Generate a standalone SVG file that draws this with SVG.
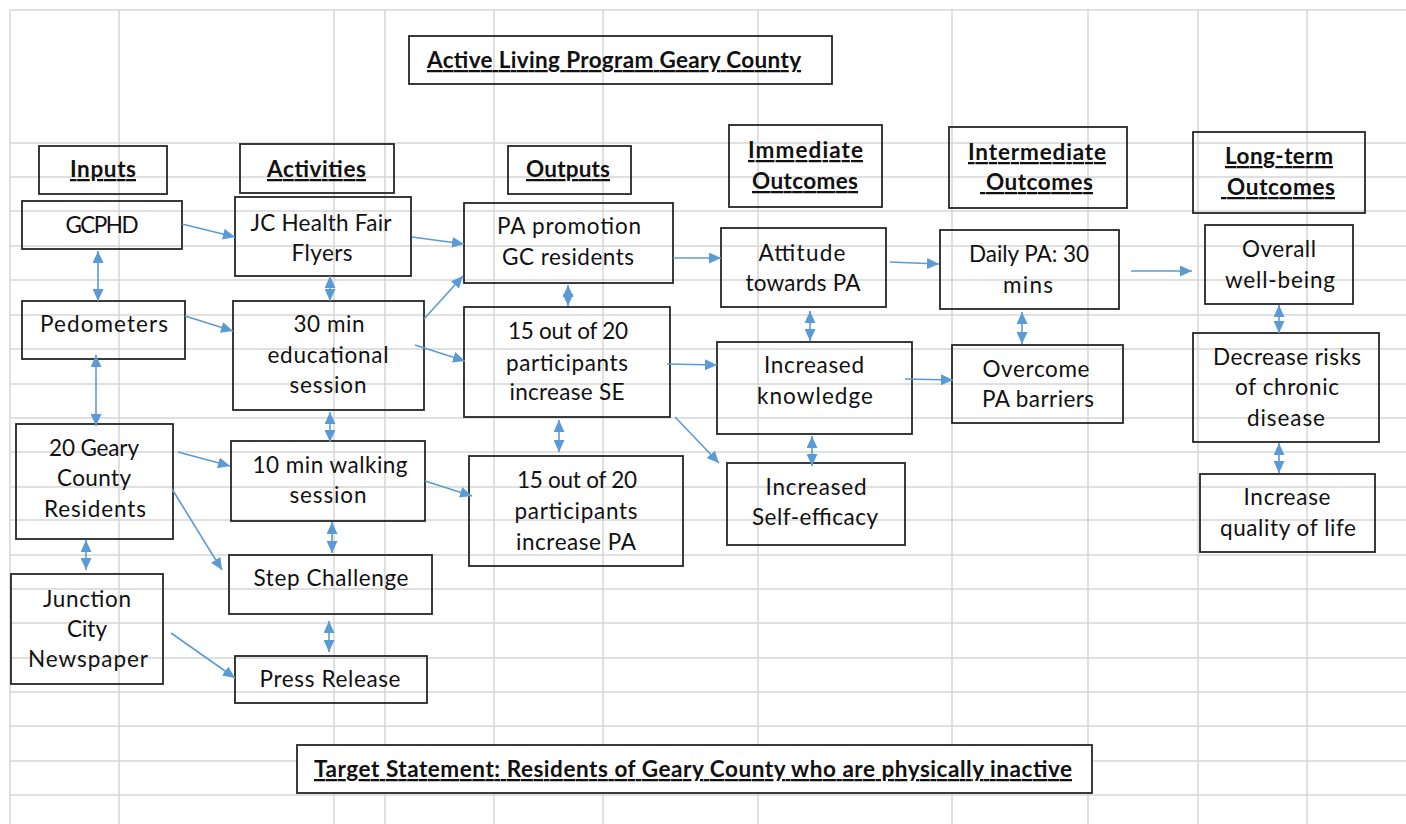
<svg xmlns="http://www.w3.org/2000/svg" width="1406" height="824" viewBox="0 0 1406 824">
<style>
.grid line{stroke:#d6d6d6;stroke-width:1.5}
.box{fill:none;stroke:#262626;stroke-width:1.8}
.boxw{fill:#ffffff;stroke:#262626;stroke-width:1.8}
text{font-family:Lato,"Open Sans","Liberation Sans",sans-serif;font-size:22.5px;fill:#111;text-anchor:middle}
text.h{font-weight:700;text-decoration:underline}
text.s{text-anchor:start;white-space:pre}
.conn line{stroke:#5b9bd5;stroke-width:1.6;fill:none}
.one{marker-end:url(#ah)}
.two{marker-start:url(#ah);marker-end:url(#ah)}
</style>
<defs>
<marker id="ah" markerUnits="userSpaceOnUse" markerWidth="13" markerHeight="11" viewBox="0 0 13 11" refX="12" refY="5.5" orient="auto-start-reverse">
<path d="M0,0 L12,5.5 L0,11 z" fill="#5b9bd5"/>
</marker>
</defs>
<rect width="1406" height="824" fill="#ffffff"/>
<g class="grid">
<line x1="10" y1="10" x2="10" y2="824"/>
<line x1="119" y1="10" x2="119" y2="824"/>
<line x1="334" y1="10" x2="334" y2="824"/>
<line x1="385" y1="10" x2="385" y2="824"/>
<line x1="494" y1="10" x2="494" y2="824"/>
<line x1="603" y1="10" x2="603" y2="824"/>
<line x1="758" y1="10" x2="758" y2="824"/>
<line x1="952" y1="10" x2="952" y2="824"/>
<line x1="1088" y1="10" x2="1088" y2="824"/>
<line x1="1198" y1="10" x2="1198" y2="824"/>
<line x1="1307" y1="10" x2="1307" y2="824"/>
<line x1="10" y1="10" x2="1406" y2="10"/>
<line x1="10" y1="143" x2="1406" y2="143"/>
<line x1="10" y1="177" x2="1406" y2="177"/>
<line x1="10" y1="211" x2="1406" y2="211"/>
<line x1="10" y1="246" x2="1406" y2="246"/>
<line x1="10" y1="280" x2="1406" y2="280"/>
<line x1="10" y1="315" x2="1406" y2="315"/>
<line x1="10" y1="349" x2="1406" y2="349"/>
<line x1="10" y1="384" x2="1406" y2="384"/>
<line x1="10" y1="418" x2="1406" y2="418"/>
<line x1="10" y1="452" x2="1406" y2="452"/>
<line x1="10" y1="487" x2="1406" y2="487"/>
<line x1="10" y1="520" x2="1406" y2="520"/>
<line x1="10" y1="555" x2="1406" y2="555"/>
<line x1="10" y1="589" x2="1406" y2="589"/>
<line x1="10" y1="623" x2="1406" y2="623"/>
<line x1="10" y1="658" x2="1406" y2="658"/>
<line x1="10" y1="692" x2="1406" y2="692"/>
<line x1="10" y1="726" x2="1406" y2="726"/>
<line x1="10" y1="761" x2="1406" y2="761"/>
<line x1="10" y1="795" x2="1406" y2="795"/>
</g>

<g id="title"><rect class="box" x="409" y="36" width="423" height="48"/><text class="h" x="614" y="68" textLength="374">Active Living Program Geary County</text></g>

<g id="h-inputs"><rect class="box" x="39" y="146" width="128" height="48"/><text class="h" x="103" y="177" textLength="66">Inputs</text></g>
<g id="h-activities"><rect class="box" x="240" y="144" width="154" height="49"/><text class="h" x="316.5" y="177" textLength="99">Activities</text></g>
<g id="h-outputs"><rect class="box" x="508" y="146" width="123" height="48"/><text class="h" x="568" y="177" textLength="84">Outputs</text></g>
<g id="h-immediate"><rect class="box" x="729" y="125" width="153" height="82"/><text class="h" x="805.5" y="158" textLength="115">Immediate</text><text class="h" x="805" y="189" textLength="106">Outcomes</text></g>
<g id="h-intermediate"><rect class="box" x="949" y="127" width="178" height="81"/><text class="h" x="1037" y="160" textLength="138">Intermediate</text><text class="h s" x="980" y="190" textLength="113"> Outcomes</text></g>
<g id="h-longterm"><rect class="box" x="1193" y="132" width="172" height="81"/><text class="h" x="1279" y="164" textLength="108">Long-term</text><text class="h s" x="1221" y="195" textLength="114"> Outcomes</text></g>

<g id="gcphd"><rect class="box" x="22" y="201" width="160" height="48"/><text x="102" y="233" textLength="73">GCPHD</text></g>
<g id="pedometers"><rect class="box" x="22" y="301" width="163" height="58"/><text x="104" y="332" textLength="128">Pedometers</text></g>
<g id="residents"><rect class="box" x="16" y="424" width="157" height="115"/><text x="94" y="456" textLength="90">20 Geary</text><text x="94" y="486" textLength="74">County</text><text x="95" y="517" textLength="102">Residents</text></g>
<g id="newspaper"><rect class="box" x="11" y="574" width="152" height="110"/><text x="87" y="607" textLength="88">Junction</text><text x="87" y="637" textLength="40">City</text><text x="88" y="667" textLength="120">Newspaper</text></g>

<g id="healthfair"><rect class="box" x="235" y="197" width="176" height="79"/><text x="321" y="231" textLength="141">JC Health Fair</text><text x="322" y="261" textLength="61">Flyers</text></g>
<g id="edsession"><rect class="box" x="233" y="301" width="191" height="109"/><text x="329" y="332" textLength="71">30 min</text><text x="328" y="363" textLength="121">educational</text><text x="328" y="393" textLength="77">session</text></g>
<g id="walking"><rect class="box" x="231" y="441" width="194" height="80"/><text x="330" y="473" textLength="155">10 min walking</text><text x="328" y="503" textLength="77">session</text></g>
<g id="stepchallenge"><rect class="box" x="229" y="555" width="203" height="59"/><text x="331" y="586" textLength="155">Step Challenge</text></g>
<g id="pressrelease"><rect class="box" x="235" y="656" width="192" height="47"/><text x="330" y="687" textLength="141">Press Release</text></g>

<g id="papromotion"><rect class="box" x="464" y="203" width="209" height="80"/><text x="569" y="234" textLength="144">PA promotion</text><text x="568" y="265" textLength="132">GC residents</text></g>
<g id="out-se"><rect class="box" x="464" y="307" width="206" height="110"/><text x="568" y="339" textLength="120">15 out of 20</text><text x="567" y="371" textLength="122">participants</text><text x="567" y="400" textLength="115">increase SE</text></g>
<g id="out-pa"><rect class="box" x="469" y="456" width="214" height="110"/><text x="577" y="488" textLength="120">15 out of 20</text><text x="576" y="519" textLength="123">participants</text><text x="576" y="550" textLength="120">increase PA</text></g>

<g id="attitude"><rect class="box" x="721" y="228" width="165" height="79"/><text x="802" y="261" textLength="87">Attitude</text><text x="803" y="291" textLength="115">towards PA</text></g>
<g id="knowledge"><rect class="box" x="717" y="342" width="195" height="92"/><text x="814" y="373" textLength="100">Increased</text><text x="815" y="404" textLength="116">knowledge</text></g>
<g id="selfefficacy"><rect class="box" x="727" y="463" width="178" height="82"/><text x="816" y="495" textLength="101">Increased</text><text x="815" y="525" textLength="126">Self-efficacy</text></g>

<g id="dailypa"><rect class="box" x="940" y="230" width="179" height="79"/><text x="1029" y="262" textLength="120">Daily PA: 30</text><text x="1028" y="293" textLength="50">mins</text></g>
<g id="overcome"><rect class="box" x="952" y="345" width="171" height="78"/><text x="1036" y="377" textLength="107">Overcome</text><text x="1038" y="407" textLength="112">PA barriers</text></g>

<g id="wellbeing"><rect class="box" x="1205" y="225" width="148" height="79"/><text x="1279" y="257" textLength="74">Overall</text><text x="1280" y="288" textLength="110">well-being</text></g>
<g id="chronic"><rect class="box" x="1193" y="333" width="186" height="109"/><text x="1287" y="365" textLength="148">Decrease risks</text><text x="1287" y="395" textLength="104">of chronic</text><text x="1286" y="426" textLength="78">disease</text></g>
<g id="quality"><rect class="box" x="1200" y="474" width="175" height="78"/><text x="1287" y="505" textLength="87">Increase</text><text x="1288" y="536" textLength="136">quality of life</text></g>

<g id="target"><rect class="boxw" x="297" y="745" width="795" height="48"/><text class="h" x="693" y="777" textLength="758">Target Statement: Residents of Geary County who are physically inactive</text></g>

<g class="conn" id="connectors">
<line class="one" x1="182" y1="224" x2="235" y2="237"/>
<line class="one" x1="412" y1="237" x2="464" y2="244"/>
<line class="two" x1="98" y1="251" x2="98" y2="301"/>
<line class="two" x1="330" y1="276" x2="330" y2="301"/>
<line class="one" x1="185" y1="316" x2="233" y2="331"/>
<line class="one" x1="424" y1="319" x2="463" y2="276"/>
<line class="one" x1="415" y1="345" x2="465" y2="361"/>
<line class="two" x1="96" y1="355" x2="96" y2="426"/>
<line class="two" x1="330" y1="412" x2="330" y2="442"/>
<line class="one" x1="178" y1="452" x2="230" y2="466"/>
<line class="one" x1="172" y1="489" x2="222" y2="570"/>
<line class="one" x1="425" y1="481" x2="472" y2="496"/>
<line class="two" x1="332" y1="522" x2="332" y2="553"/>
<line class="two" x1="86" y1="540" x2="86" y2="570"/>
<line class="two" x1="329" y1="621" x2="329" y2="652"/>
<line class="one" x1="171" y1="633" x2="235" y2="678"/>
<line class="two" x1="568" y1="285" x2="568" y2="306"/>
<line class="one" x1="673" y1="258" x2="721" y2="258"/>
<line class="one" x1="667" y1="364" x2="717" y2="365"/>
<line class="one" x1="675" y1="417" x2="719" y2="463"/>
<line class="two" x1="559" y1="420" x2="559" y2="452"/>
<line class="two" x1="810" y1="311" x2="810" y2="341"/>
<line class="two" x1="812" y1="436" x2="812" y2="466"/>
<line class="one" x1="890" y1="262" x2="939" y2="264"/>
<line class="one" x1="905" y1="379" x2="953" y2="380"/>
<line class="two" x1="1022" y1="312" x2="1022" y2="344"/>
<line class="one" x1="1131" y1="271" x2="1192" y2="271"/>
<line class="two" x1="1279" y1="305" x2="1279" y2="333"/>
<line class="two" x1="1279" y1="443" x2="1279" y2="473"/>
</g>
</svg>
